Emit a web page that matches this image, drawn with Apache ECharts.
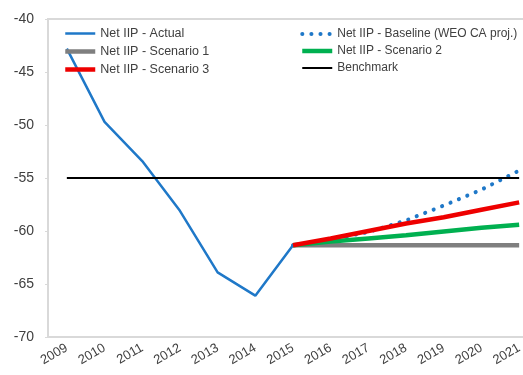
<!DOCTYPE html>
<html><head><meta charset="utf-8">
<script src="https://cdn.jsdelivr.net/npm/echarts@6/dist/echarts.min.js"></script>
<style>html,body{margin:0;padding:0;background:#fff}#c{width:523px;height:375px}</style>
</head><body><div id="c"></div>
<script>
var years = ['2009','2010','2011','2012','2013','2014','2015','2016','2017','2018','2019','2020','2021'];
var actual = [-42.8, -49.7, -53.4, -58.1, -63.9, -66.1, -61.35, null, null, null, null, null, null];
var baseline = [null, null, null, null, null, null, -61.35, -60.8, -60.1, -59.0, -57.6, -56.1, -54.3];
var scenario1 = [null, null, null, null, null, null, -61.35, -61.35, -61.35, -61.35, -61.35, -61.35, -61.35];
var scenario2 = [null, null, null, null, null, null, -61.35, -61.0, -60.7, -60.4, -60.05, -59.7, -59.4];
var scenario3 = [null, null, null, null, null, null, -61.35, -60.7, -60.0, -59.3, -58.7, -58.0, -57.3];
var benchmark = [-55, -55, -55, -55, -55, -55, -55, -55, -55, -55, -55, -55, -55];
var yTicks = {min: -70, max: -40, interval: 5};

var names = ['Net IIP - Actual', 'Net IIP - Baseline (WEO CA proj.)', 'Net IIP - Scenario 1',
             'Net IIP - Scenario 2', 'Net IIP - Scenario 3', 'Benchmark'];
var colors = ['#1f78c8', '#1f78c8', '#7f7f7f', '#00b050', '#ee0000', '#000000'];
var widths = [2.5, 4, 4.5, 4.5, 4.5, 2];
var types = ['solid', [0.1, 9], 'solid', 'solid', 'solid', 'solid'];
var font = 'Liberation Sans, Arial, sans-serif';
function ser(i, data) {
  return {name: names[i], type: 'line', data: data, symbol: 'none', showSymbol: false,
    connectNulls: false, animation: false,
    lineStyle: {color: colors[i], width: widths[i], type: types[i], cap: i === 1 ? 'round' : 'butt'},
    itemStyle: {color: colors[i]}};
}
function legItem(i) {
  return {name: names[i], itemStyle: {opacity: 0},
    lineStyle: {color: colors[i], width: widths[i], type: types[i], cap: i === 1 ? 'round' : 'butt'}};
}
var chart = echarts.init(document.getElementById('c'));
chart.setOption({
  animation: false,
  grid: {left: 48, top: 19, width: 490, height: 318, outerBoundsMode: 'none', containLabel: false,
    show: true, borderColor: '#d9d9d9', borderWidth: 2, backgroundColor: 'transparent'},
  legend: [
    {orient: 'vertical', left: 58, top: 22, itemWidth: 30, itemHeight: 14, itemGap: 5,
     data: [legItem(0), legItem(2), legItem(4)], textStyle: {fontFamily: font, fontSize: 12.5, color: '#404040'}},
    {orient: 'vertical', left: 295, top: 23, itemWidth: 30, itemHeight: 14, itemGap: 5,
     data: [legItem(1), legItem(3), legItem(5)], textStyle: {fontFamily: font, fontSize: 12, color: '#404040'}}
  ],
  xAxis: {type: 'category', data: years, boundaryGap: true,
    axisLine: {lineStyle: {color: '#d9d9d9', width: 2}}, axisTick: {show: false},
    axisLabel: {rotate: 30, margin: 10, fontFamily: font, fontSize: 13, color: '#404040', interval: 0}},
  yAxis: {type: 'value', min: yTicks.min, max: yTicks.max, interval: yTicks.interval, splitLine: {show: false},
    axisLine: {show: true, lineStyle: {color: '#d9d9d9', width: 2}},
    axisTick: {show: true, length: 3, lineStyle: {color: '#d9d9d9'}},
    axisLabel: {margin: 14, fontFamily: font, fontSize: 14, color: '#404040'}},
  series: [
    ser(0, actual), ser(1, baseline), ser(2, scenario1), ser(3, scenario2), ser(4, scenario3), ser(5, benchmark)
  ]
});
</script></body></html>
